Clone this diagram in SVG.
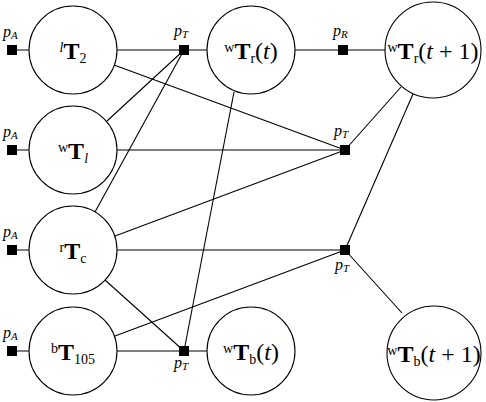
<svg xmlns="http://www.w3.org/2000/svg" width="486" height="402" viewBox="0 0 486 402">
<style>
.e{stroke:#000;stroke-width:1.1;fill:none}
.n{fill:#fff;stroke:#000;stroke-width:1.1}
.s{fill:#000}
.m{font-size:24px;text-anchor:middle}
.T{font-weight:bold}
.sp{font-size:14px}
.sb{font-size:14px}
.i{font-style:italic}
.p{font-size:16px;font-style:italic}
.ps{font-size:11px;font-style:italic}
</style>
<g id="connectors">
<line class="e" x1="12" y1="50" x2="73" y2="50"/>
<line class="e" x1="12" y1="150" x2="73" y2="150"/>
<line class="e" x1="12" y1="250" x2="73" y2="250"/>
<line class="e" x1="12" y1="351" x2="73" y2="351"/>
<line class="e" x1="73" y1="50" x2="251" y2="50"/>
<line class="e" x1="251" y1="50" x2="433" y2="50"/>
<line class="e" x1="114" y1="65" x2="345" y2="150"/>
<line class="e" x1="107" y1="121" x2="184" y2="50"/>
<line class="e" x1="95" y1="212" x2="184" y2="50"/>
<line class="e" x1="73" y1="150" x2="345" y2="150"/>
<line class="e" x1="115" y1="236" x2="345" y2="150"/>
<line class="e" x1="401" y1="87" x2="345" y2="150"/>
<line class="e" x1="234" y1="92" x2="184" y2="351"/>
<line class="e" x1="73" y1="250" x2="345" y2="250"/>
<line class="e" x1="105" y1="280" x2="184" y2="351"/>
<line class="e" x1="73" y1="351" x2="251" y2="351"/>
<line class="e" x1="115" y1="336" x2="345" y2="250"/>
<line class="e" x1="413" y1="94" x2="345" y2="250"/>
<line class="e" x1="345" y1="250" x2="402" y2="313"/>
</g>
<g id="n_lT2"><circle class="n" cx="73" cy="50" r="44"/><text class="m" font-family="'Liberation Serif', serif" x="73" y="59"><tspan class="sp i" dy="-7">l</tspan><tspan class="T" dy="7">T</tspan><tspan class="sb" dy="4">2</tspan></text></g>
<g id="n_wTl"><circle class="n" cx="73" cy="150" r="44"/><text class="m" font-family="'Liberation Serif', serif" x="73" y="159"><tspan class="sp" dy="-7">w</tspan><tspan class="T" dy="7">T</tspan><tspan class="sb i" dy="4">l</tspan></text></g>
<g id="n_rTc"><circle class="n" cx="73" cy="250" r="44"/><text class="m" font-family="'Liberation Serif', serif" x="73" y="259"><tspan class="sp" dy="-7">r</tspan><tspan class="T" dy="7">T</tspan><tspan class="sb" dy="4">c</tspan></text></g>
<g id="n_bT105"><circle class="n" cx="73" cy="351" r="44"/><text class="m" font-family="'Liberation Serif', serif" x="73" y="360"><tspan class="sp" dy="-7">b</tspan><tspan class="T" dy="7">T</tspan><tspan class="sb" dy="4">105</tspan></text></g>
<g id="n_wTrt"><circle class="n" cx="251" cy="50" r="44"/><text class="m" font-family="'Liberation Serif', serif" x="251" y="59"><tspan class="sp" dy="-7">w</tspan><tspan class="T" dy="7">T</tspan><tspan class="sb" dy="4">r</tspan><tspan dy="-4">(</tspan><tspan class="i">t</tspan><tspan>)</tspan></text></g>
<g id="n_wTbt"><circle class="n" cx="251" cy="351" r="44"/><text class="m" font-family="'Liberation Serif', serif" x="251" y="360"><tspan class="sp" dy="-7">w</tspan><tspan class="T" dy="7">T</tspan><tspan class="sb" dy="4">b</tspan><tspan dy="-4">(</tspan><tspan class="i">t</tspan><tspan>)</tspan></text></g>
<g id="n_wTrt1"><circle class="n" cx="433" cy="50" r="48"/><text class="m" font-family="'Liberation Serif', serif" x="433" y="59"><tspan class="sp" dy="-7">w</tspan><tspan class="T" dy="7">T</tspan><tspan class="sb" dy="4">r</tspan><tspan dy="-4">(</tspan><tspan class="i">t</tspan><tspan> + 1)</tspan></text></g>
<g id="n_wTbt1"><circle class="n" cx="434" cy="353" r="47"/><text class="m" font-family="'Liberation Serif', serif" x="434" y="362"><tspan class="sp" dy="-7">w</tspan><tspan class="T" dy="7">T</tspan><tspan class="sb" dy="4">b</tspan><tspan dy="-4">(</tspan><tspan class="i">t</tspan><tspan> + 1)</tspan></text></g>
<g id="squares">
<rect class="s" x="7" y="45" width="10" height="10"/>
<rect class="s" x="7" y="145" width="10" height="10"/>
<rect class="s" x="7" y="245" width="10" height="10"/>
<rect class="s" x="7" y="346" width="10" height="10"/>
<rect class="s" x="179" y="45" width="10" height="10"/>
<rect class="s" x="338" y="45" width="10" height="10"/>
<rect class="s" x="340" y="145" width="10" height="10"/>
<rect class="s" x="340" y="245" width="10" height="10"/>
<rect class="s" x="179" y="346" width="10" height="10"/>
</g>
<g id="labels">
<text font-family="'Liberation Serif', serif" x="3" y="37"><tspan class="p">p</tspan><tspan class="ps" dy="2">A</tspan></text>
<text font-family="'Liberation Serif', serif" x="3" y="137"><tspan class="p">p</tspan><tspan class="ps" dy="2">A</tspan></text>
<text font-family="'Liberation Serif', serif" x="3" y="237"><tspan class="p">p</tspan><tspan class="ps" dy="2">A</tspan></text>
<text font-family="'Liberation Serif', serif" x="3" y="338"><tspan class="p">p</tspan><tspan class="ps" dy="2">A</tspan></text>
<text font-family="'Liberation Serif', serif" x="174" y="36"><tspan class="p">p</tspan><tspan class="ps" dy="2">T</tspan></text>
<text font-family="'Liberation Serif', serif" x="333" y="36"><tspan class="p">p</tspan><tspan class="ps" dy="2">R</tspan></text>
<text font-family="'Liberation Serif', serif" x="334" y="136"><tspan class="p">p</tspan><tspan class="ps" dy="2">T</tspan></text>
<text font-family="'Liberation Serif', serif" x="335" y="270"><tspan class="p">p</tspan><tspan class="ps" dy="2">T</tspan></text>
<text font-family="'Liberation Serif', serif" x="174" y="368"><tspan class="p">p</tspan><tspan class="ps" dy="2">T</tspan></text>
</g>
</svg>
